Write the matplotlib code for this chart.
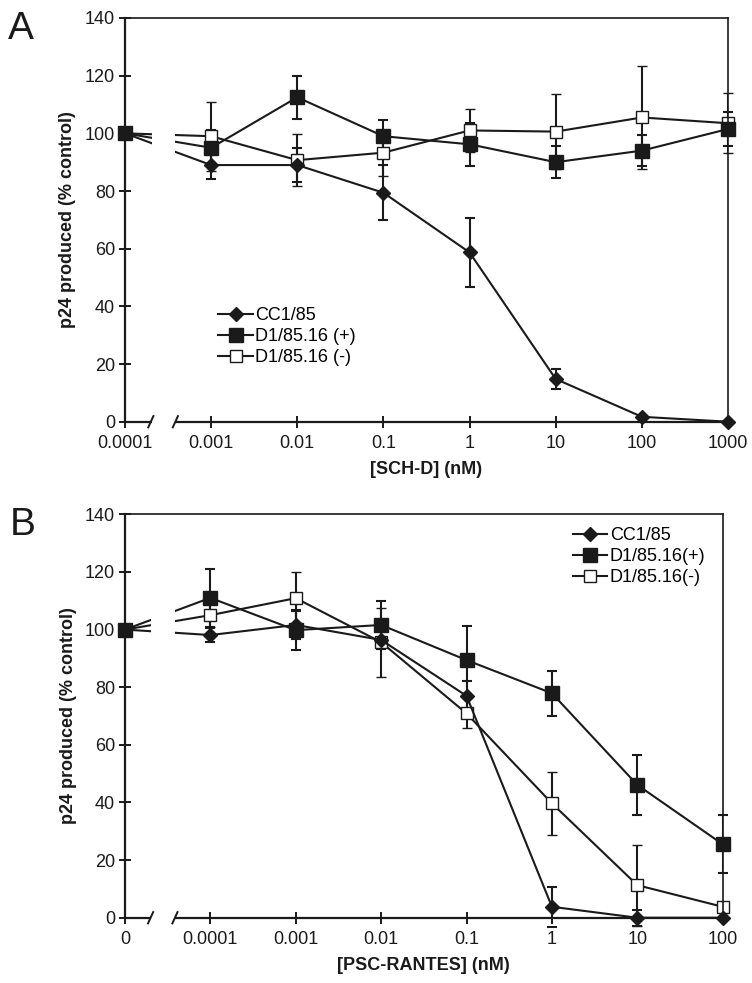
import numpy as np
import matplotlib
matplotlib.use('Agg')
import matplotlib.pyplot as plt

plt.rcParams['font.family'] = ['Liberation Sans', 'DejaVu Sans']

# panel A: SCH-D
sch_labels = ['0.0001', '0.001', '0.01', '0.1', '1', '10', '100', '1000']
cc1_a = [100, 89, 89, 79.4, 58.7, 14.8, 1.7, 0]
cc1_a_err = [0, 5, 6, 9.5, 12, 3.5, 0, 0]
d1p_a = [100, 95, 112.5, 99, 96.2, 90, 94, 101.5]
d1p_a_err = [0, 6, 7.5, 5.7, 7.5, 5.5, 5.5, 6]
d1m_a = [100, 99, 90.7, 93.3, 101, 100.6, 105.5, 103.5]
d1m_a_err = [0, 12, 9, 8, 7.3, 13, 18, 10.4]

# panel B: PSC-RANTES
psc_labels = ['0', '0.0001', '0.001', '0.01', '0.1', '1', '10', '100']
cc1_b = [100, 98.1, 101.6, 96.4, 77, 3.8, 0, 0]
cc1_b_err = [0, 2.5, 5, 3, 5, 7, 2.7, 0]
d1p_b = [100, 111, 99.8, 101.6, 89.4, 77.9, 46.1, 25.5]
d1p_b_err = [0, 10, 7, 8.4, 11.8, 7.8, 10.3, 10]
d1m_b = [100, 105, 110.9, 95.6, 70.9, 39.7, 11.3, 3.8]
d1m_b_err = [0, 4, 9, 12, 5.2, 11, 14, 0]

yticks = [0, 20, 40, 60, 80, 100, 120, 140]
ink = '#1a1a1a'


def draw_panel(ax, labels, series, names, xlabel, legend_anchor):
    x = np.arange(len(labels))
    styles = [
        dict(marker='D', markersize=7.5, markerfacecolor=ink, markeredgecolor=ink),
        dict(marker='s', markersize=10, markerfacecolor=ink, markeredgecolor=ink),
        dict(marker='s', markersize=9, markerfacecolor='white', markeredgecolor=ink,
             markeredgewidth=1.0),
    ]
    handles = [None] * 3
    # open squares first, diamonds last (drawn on top)
    for i in (2, 1, 0):
        vals, errs = series[i]
        cont = ax.errorbar(x, vals, yerr=errs, color=ink, lw=1.5, capsize=3.5,
                           capthick=1.5, elinewidth=1.5, zorder=2 + 0.01 * (2 - i),
                           **styles[i], label=names[i])
        handles[i] = cont[0]
    for ln in ax.lines:
        ln.set_clip_on(False)

    # axis break between the first two positions
    gap = ax.axvspan(0.31, 0.585, ymin=-0.02, ymax=0.8, color='white',
                     zorder=2.6, lw=0)
    gap.set_clip_on(False)
    tr = ax.get_xaxis_transform()
    for cx in (0.30, 0.585):
        ax.plot([cx - 0.03, cx + 0.03], [-0.014, 0.014], color=ink, lw=1.4,
                transform=tr, clip_on=False, zorder=3)

    ax.set_xlim(0, len(labels) - 1)
    ax.set_ylim(0, 140)
    ax.set_xticks(x)
    ax.set_xticklabels(labels)
    ax.set_yticks(yticks)
    ax.tick_params(axis='both', direction='inout', length=8.5, width=1.4,
                   labelsize=13, color=ink, labelcolor=ink)
    ax.tick_params(axis='x', pad=5)
    ax.tick_params(axis='y', pad=3)
    for side in ['left', 'bottom']:
        ax.spines[side].set_linewidth(1.6)
    for side in ['top', 'right']:
        ax.spines[side].set_linewidth(1.2)
    for sp in ax.spines.values():
        sp.set_color(ink)

    ax.set_xlabel(xlabel, fontsize=13, fontweight='bold', color=ink, labelpad=7)
    ax.set_ylabel('p24 produced (% control)', fontsize=13, fontweight='bold',
                  color=ink)
    ax.yaxis.set_label_coords(-0.081, 0.5)

    ax.legend(handles, names, loc='upper left', bbox_to_anchor=legend_anchor,
              frameon=False, fontsize=13, handlelength=1.9, handletextpad=0.15,
              labelspacing=0.22, borderpad=0, borderaxespad=0)


fig = plt.figure(figsize=(7.52, 9.83), dpi=100)
ax_a = fig.add_axes([0.1662, 0.571, 0.8019, 0.4107])
ax_b = fig.add_axes([0.1662, 0.0664, 0.7948, 0.4104])

draw_panel(ax_a, sch_labels,
           [(cc1_a, cc1_a_err), (d1p_a, d1p_a_err), (d1m_a, d1m_a_err)],
           ['CC1/85', 'D1/85.16 (+)', 'D1/85.16 (-)'],
           '[SCH-D] (nM)', (0.155, 0.284))
draw_panel(ax_b, psc_labels,
           [(cc1_b, cc1_b_err), (d1p_b, d1p_b_err), (d1m_b, d1m_b_err)],
           ['CC1/85', 'D1/85.16(+)', 'D1/85.16(-)'],
           '[PSC-RANTES] (nM)', (0.749, 0.968))

fig.text(0.011, 0.970, 'A', fontsize=28, color=ink, va='center')
fig.text(0.013, 0.4660, 'B', fontsize=28, color=ink, va='center')

fig.savefig('out.png', dpi=100)
